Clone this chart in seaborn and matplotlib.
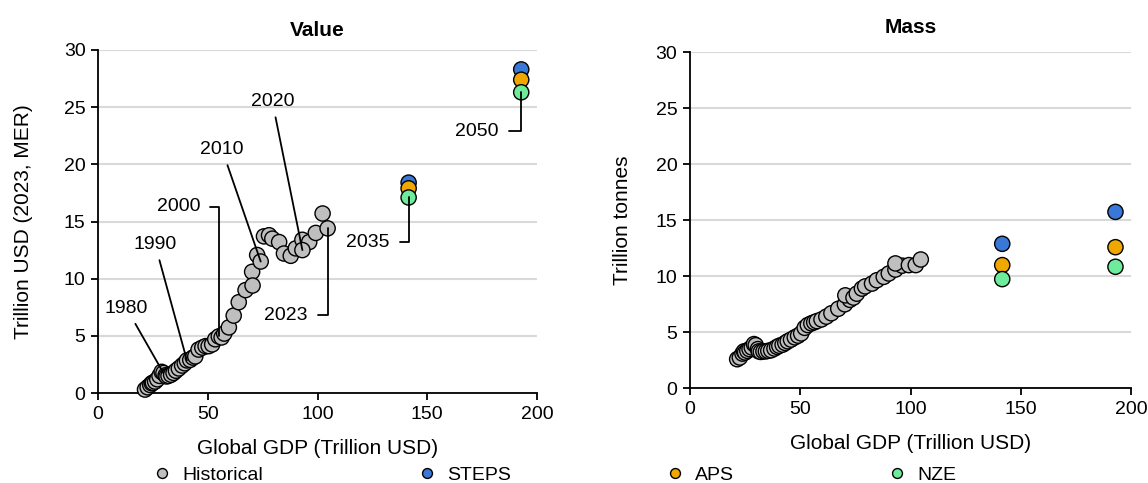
import pandas as pd
import matplotlib.pyplot as plt
import seaborn as sns

# --- dati storici (1971-2023) ---
years = list(range(1971, 2024))
gdp = [21.4, 22.6, 23.8, 24.5, 25.0, 26.0, 27.0, 28.0, 29.0, 29.8,
       30.8, 31.2, 32.1, 33.3, 34.4, 35.5, 36.8, 38.3, 39.5, 40.5,
       42.0, 43.2, 44.3, 45.8, 47.5, 49.0, 50.4, 52.0, 53.4, 55.0,
       56.3, 57.5, 59.6, 61.8, 64.1, 67.2, 70.2, 72.5, 70.4, 74.1,
       75.6, 77.9, 79.4, 82.5, 84.7, 87.8, 90.1, 93.1, 96.2, 93.1,
       99.2, 102.3, 104.6]
value = [0.3, 0.5, 0.7, 0.85, 0.9, 1.0, 1.2, 1.5, 1.85, 1.75,
         1.55, 1.45, 1.5, 1.6, 1.76, 1.95, 2.15, 2.4, 2.6, 2.85,
         2.9, 3.1, 3.2, 3.8, 3.97, 4.1, 4.1, 4.25, 4.7, 4.95,
         4.86, 5.2, 5.74, 6.77, 7.94, 9.0, 10.6, 12.07, 9.4, 11.5,
         13.7, 13.8, 13.5, 13.2, 12.2, 12.0, 12.65, 13.4, 13.2, 12.5,
         14.0, 15.7, 14.4]
mass = [2.6, 2.75, 3.1, 3.3, 3.2, 3.35, 3.5, 3.65, 3.95, 3.85,
        3.5, 3.3, 3.25, 3.3, 3.3, 3.35, 3.4, 3.55, 3.7, 3.8,
        3.9, 4.05, 4.2, 4.35, 4.55, 4.7, 4.9, 5.4, 5.65, 5.8,
        5.9, 6.0, 6.15, 6.4, 6.7, 7.1, 7.5, 7.9, 8.3, 8.1,
        8.45, 8.9, 9.1, 9.35, 9.65, 9.95, 10.25, 10.6, 10.95, 11.15,
        11.0, 11.0, 11.5]

# --- scenari (2035, 2050) ---
scen_years = [2035, 2050]
scen_gdp = [141.5, 192.8]
steps_value = [18.4, 28.3]
aps_value = [17.9, 27.4]
nze_value = [17.1, 26.3]
steps_mass = [12.9, 15.75]
aps_mass = [11.0, 12.6]
nze_mass = [9.75, 10.85]

scenarios = ['Historical', 'STEPS', 'APS', 'NZE']
colori = {'Historical': '#BFBFBF', 'STEPS': '#3A78D8',
          'APS': '#F0A800', 'NZE': '#6EEB9B'}

righe = []
for y, g, v, m in zip(years, gdp, value, mass):
    righe.append(dict(year=y, gdp=g, value=v, mass=m, scenario='Historical'))
for nome, vals, masses in [('STEPS', steps_value, steps_mass),
                           ('APS', aps_value, aps_mass),
                           ('NZE', nze_value, nze_mass)]:
    for y, g, v, m in zip(scen_years, scen_gdp, vals, masses):
        righe.append(dict(year=y, gdp=g, value=v, mass=m, scenario=nome))
df = pd.DataFrame(righe)

sns.set_theme(style="white")
plt.rcParams['font.family'] = ['Liberation Sans', 'DejaVu Sans']
plt.rcParams.update({'text.color': 'black', 'axes.labelcolor': 'black',
                     'xtick.color': 'black', 'ytick.color': 'black'})

fig = plt.figure(figsize=(11.48, 4.83), dpi=100)
ax1 = fig.add_axes([0.0854, 0.1863, 0.3824, 0.7102])
ax2 = fig.add_axes([0.601, 0.196, 0.3845, 0.6958])

for ax, col, titolo, ylab, tpad, ypad in [(ax1, 'value', 'Value', 'Trillion USD (2023, MER)', 10, 22),
                                          (ax2, 'mass', 'Mass', 'Trillion tonnes', 14, 17)]:
    sns.scatterplot(data=df, x='gdp', y=col, hue='scenario', hue_order=scenarios,
                    palette=colori, s=120, edgecolor='black', linewidth=1,
                    alpha=1, ax=ax, legend=(ax is ax1), zorder=3, clip_on=False)
    ax.set_xlim(0, 200)
    ax.set_ylim(0, 30)
    ax.set_xticks(range(0, 201, 50))
    ax.set_yticks(range(0, 31, 5))
    ax.yaxis.grid(True, color='#D9D9D9', linewidth=1.5)
    ax.set_axisbelow(True)
    sns.despine(ax=ax)
    for s in ['left', 'bottom']:
        ax.spines[s].set_color('black')
        ax.spines[s].set_linewidth(1.3)
    ax.tick_params(axis='both', direction='out', length=5, width=1.3,
                   color='black', labelsize=14, pad=4, bottom=True, left=True)
    ax.set_title(titolo, fontsize=15, fontweight='bold', pad=tpad)
    ax.set_xlabel('Global GDP (Trillion USD)', fontsize=15, labelpad=12)
    ax.set_ylabel(ylab, fontsize=15, labelpad=ypad)

# --- etichette anni (grafico Value) ---
storico = df[df['scenario'] == 'Historical'].set_index('year')
nze = df[df['scenario'] == 'NZE'].set_index('year')

dritte = {1980: (13.0, 7.4), 1990: (26.0, 13.0), 2010: (56.5, 21.3), 2020: (79.4, 25.5)}
gomito = {2000: (36.6, 16.3), 2023: (85.5, 6.8)}
gomito_scen = {2035: (122.9, 13.2), 2050: (172.5, 22.9)}

for anno, pos in dritte.items():
    ax1.annotate(str(anno), xy=(storico.loc[anno, 'gdp'], storico.loc[anno, 'value']),
                 xytext=pos, ha='center', va='center', fontsize=14,
                 arrowprops=dict(arrowstyle='-', color='black', lw=1.3,
                                 shrinkA=3, shrinkB=0), zorder=5)
for anno, pos in gomito.items():
    ax1.annotate(str(anno), xy=(storico.loc[anno, 'gdp'], storico.loc[anno, 'value']),
                 xytext=pos, ha='center', va='center', fontsize=14,
                 arrowprops=dict(arrowstyle='-', color='black', lw=1.3, shrinkA=5, shrinkB=0,
                                 connectionstyle='angle,angleA=0,angleB=90,rad=0'), zorder=5)
for anno, pos in gomito_scen.items():
    ax1.annotate(str(anno), xy=(nze.loc[anno, 'gdp'], nze.loc[anno, 'value']),
                 xytext=pos, ha='center', va='center', fontsize=14,
                 arrowprops=dict(arrowstyle='-', color='black', lw=1.3, shrinkA=5, shrinkB=0,
                                 connectionstyle='angle,angleA=0,angleB=90,rad=0'), zorder=5)

# --- legenda comune ---
handles, labels = ax1.get_legend_handles_labels()
ax1.get_legend().remove()
fig.legend(handles, labels, loc='center', bbox_to_anchor=(0.484, 0.016), ncol=4,
           frameon=False, fontsize=14, markerscale=0.65, handlelength=0.8,
           handletextpad=0.65, columnspacing=8.0, borderaxespad=0)

plt.savefig('out.png', dpi=100)
